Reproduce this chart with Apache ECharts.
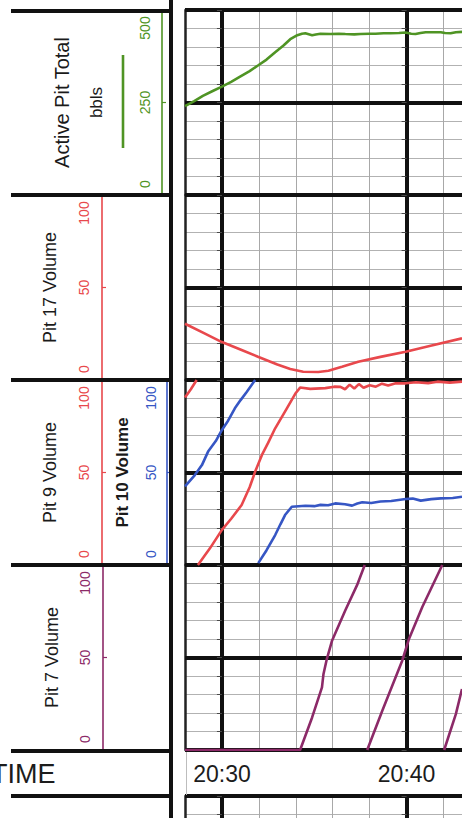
<!DOCTYPE html>
<html>
<head>
<meta charset="utf-8">
<title>Pit volumes</title>
<script src="https://cdn.jsdelivr.net/npm/echarts@6/dist/echarts.min.js"></script>
<style>
  html, body { margin: 0; padding: 0; background: #fff; }
  #chart { width: 462px; height: 818px; }
</style>
</head>
<body>
<div id="chart"></div>
<script>
// ---- time window of the strip (clock time) ----
const timeStart = '20:28:00';
const timeEnd = '20:43:00';
const timeLabels = ['20:30', '20:40'];
const timeHeader = 'TIME';

// ---- track titles and scales ----
const trackTitles = ['Active Pit Total', 'Pit 17 Volume', 'Pit 9 Volume', 'Pit 10 Volume', 'Pit 7 Volume'];
const activeUnits = 'bbls';
const activeScaleMax = 500;
const pitScaleMax = 100;

// ---- readings: [clock time, volume]; each inner list is one unbroken trace ----
const activePitTotal = [[
  ['20:28:00', 240], ['20:28:30', 254], ['20:28:58', 268], ['20:29:30', 281], ['20:30:00', 293],
  ['20:30:30', 306], ['20:30:59', 320], ['20:31:30', 335], ['20:31:57', 350], ['20:32:25', 366],
  ['20:32:53', 386], ['20:33:20', 404], ['20:33:42', 421], ['20:34:05', 432], ['20:34:20', 436],
  ['20:34:31', 437], ['20:34:53', 432], ['20:35:05', 434], ['20:35:20', 436], ['20:35:52', 435],
  ['20:36:20', 436], ['20:36:41', 435], ['20:37:10', 434], ['20:37:30', 435], ['20:38:00', 436],
  ['20:38:19', 436], ['20:38:45', 437], ['20:39:08', 437], ['20:39:35', 438], ['20:39:57', 439],
  ['20:40:15', 436], ['20:40:29', 435], ['20:40:45', 438], ['20:41:02', 440], ['20:41:30', 440],
  ['20:41:51', 440], ['20:42:05', 438], ['20:42:23', 437], ['20:42:40', 440], ['20:43:00', 441]
]];

const pit17Volume = [[
  ['20:28:00', 30.4], ['20:29:00', 25.5], ['20:30:00', 20.5], ['20:31:00', 16.5], ['20:31:57', 12.6],
  ['20:33:00', 8.4], ['20:33:42', 6.0], ['20:34:24', 4.5], ['20:35:13', 4.3], ['20:35:46', 5.0],
  ['20:36:30', 7.2], ['20:37:23', 9.9], ['20:38:35', 12.5], ['20:39:57', 15.3], ['20:41:18', 18.5],
  ['20:43:00', 22.5]
]];

const pit9Volume = [
  [['20:28:00', 90.5], ['20:28:19', 95], ['20:28:38', 100]],
  [
    ['20:28:42', 0], ['20:29:21', 9], ['20:30:00', 19], ['20:30:30', 25], ['20:31:04', 32.4],
    ['20:31:30', 42], ['20:31:48', 50.5], ['20:32:10', 59.5], ['20:32:30', 66], ['20:32:53', 73.9],
    ['20:33:31', 84.7], ['20:34:00', 93], ['20:34:14', 95.9], ['20:34:47', 95.2], ['20:35:36', 95.6],
    ['20:36:05', 96.4], ['20:36:25', 96.3], ['20:36:40', 95.0], ['20:36:55', 97.5], ['20:37:10', 95.4],
    ['20:37:25', 97.8], ['20:37:40', 95.8], ['20:38:00', 97.2], ['20:38:20', 96.4], ['20:38:40', 98.0],
    ['20:39:00', 97.0], ['20:39:25', 98.2], ['20:39:57', 98.2], ['20:40:30', 98.8], ['20:41:10', 98.3],
    ['20:41:40', 99.1], ['20:42:20', 98.6], ['20:43:00', 99.1]
  ]
];

const pit10Volume = [
  [
    ['20:28:00', 42.5], ['20:28:32', 48.6], ['20:28:55', 54], ['20:29:15', 61.3], ['20:29:40', 67],
    ['20:30:00', 73], ['20:30:20', 78], ['20:30:42', 84.7], ['20:31:00', 89], ['20:31:21', 93.7],
    ['20:31:48', 100]
  ],
  [
    ['20:31:58', 1], ['20:32:25', 8], ['20:32:53', 16.2], ['20:33:10', 22], ['20:33:25', 27],
    ['20:33:47', 31.5], ['20:34:31', 32.0], ['20:35:00', 31.8], ['20:35:20', 32.5], ['20:35:45', 32.3],
    ['20:36:08', 33.3], ['20:36:40', 32.8], ['20:37:03', 32.1], ['20:37:20', 33.2], ['20:37:36', 33.9],
    ['20:38:05', 33.5], ['20:38:35', 34.3], ['20:39:10', 34.6], ['20:39:57', 35.7], ['20:40:20', 35.9],
    ['20:40:46', 34.8], ['20:41:20', 35.6], ['20:41:51', 36.0], ['20:42:30', 36.2], ['20:43:00', 36.9]
  ]
];

const pit7Volume = [
  [
    ['20:28:00', 0], ['20:31:00', 0], ['20:34:14', 0], ['20:34:53', 17.6], ['20:35:25', 33.9],
    ['20:35:30', 41.1], ['20:35:41', 49.3], ['20:35:58', 59.2], ['20:36:41', 75.5], ['20:37:19', 89.1],
    ['20:37:44', 100]
  ],
  [
    ['20:37:52', 0], ['20:38:41', 21.2], ['20:39:46', 48.4], ['20:40:08', 60.2], ['20:40:51', 77.3],
    ['20:41:56', 100]
  ],
  [
    ['20:42:02', 0], ['20:42:40', 19.4], ['20:43:00', 33]
  ]
];

// ---- colours ----
const GREEN = '#4f9424';
const RED = '#e8484c';
const BLUE = '#3656c4';
const PURPLE = '#8c2a68';
const FONT = 'Liberation Sans, Arial, Helvetica, sans-serif';

function toMin(hms) {
  const p = hms.split(':').map(Number);
  return p[0] * 60 + p[1] + (p[2] || 0) / 60;
}
function fmtClock(m) {
  const h = Math.floor(m / 60), mm = Math.round(m - h * 60);
  return String(h).padStart(2, '0') + ':' + String(mm).padStart(2, '0');
}
function traceData(segments) {
  const out = [];
  segments.forEach((seg, i) => {
    if (i > 0) out.push([toMin(seg[0][0]), '-']);
    seg.forEach(([t, v]) => out.push([toMin(t), v]));
  });
  return out;
}

const T0 = toMin(timeStart), T1 = toMin(timeEnd);

// track frames: top edge of each track (last one is the next, empty track)
const trackTops = [10, 195, 380, 565, 796];
const trackMax = [activeScaleMax, pitScaleMax, pitScaleMax, pitScaleMax, pitScaleMax];
const TRACK_H = 185;
const PLOT_LEFT = 185;
const PX_PER_MIN = (462 - PLOT_LEFT) / (T1 - T0);

const grid = [], xAxis = [], yAxis = [], series = [];
const gridAxes = [];

trackTops.forEach((top, g) => {
  grid.push({ left: PLOT_LEFT, right: 0, top: top, height: TRACK_H, containLabel: false, outerBoundsMode: 'none' });
  const xi = xAxis.length;
  // 2-minute chart divisions
  xAxis.push({
    type: 'value', gridIndex: g, min: T0, max: T1, interval: 2, position: 'bottom',
    axisLine: { show: false }, axisTick: { show: false }, axisLabel: { show: false },
    splitLine: { show: true, lineStyle: { color: '#a8a8a8', width: 1 } }, z: 0
  });
  // 10-minute heavy divisions, labelled on the last data track
  xAxis.push({
    type: 'value', gridIndex: g, min: T0, max: T1, position: 'bottom',
    minInterval: 10, maxInterval: 10,
    axisLine: { show: false }, axisTick: { show: false },
    axisLabel: {
      show: g === 3, margin: 12, fontSize: 23, color: '#1c1c1c', fontFamily: FONT,
      showMinLabel: false, showMaxLabel: false,
      formatter: v => (timeLabels.indexOf(fmtClock(v)) >= 0 && Math.abs(v - Math.round(v)) < 1e-6) ? fmtClock(v) : ''
    },
    splitLine: { show: true, showMinLine: false, showMaxLine: false, lineStyle: { color: '#111', width: 4 } },
    z: 1
  });
  const M = trackMax[g];
  const yi = yAxis.length;
  yAxis.push({
    type: 'value', gridIndex: g, min: 0, max: M, interval: M / 10, position: 'left',
    axisLine: { show: true, onZero: false, lineStyle: { color: '#222', width: 2.5 } },
    axisTick: { show: false }, axisLabel: { show: false },
    splitLine: { show: true, lineStyle: { color: '#b2b2b2', width: 1 } }, z: 0
  });
  yAxis.push({
    type: 'value', gridIndex: g, min: 0, max: M, interval: M / 2, position: 'left',
    axisLine: { show: false }, axisTick: { show: false }, axisLabel: { show: false },
    splitLine: { show: true, showMinLine: true, showMaxLine: true, lineStyle: { color: '#111', width: 4 } }, z: 1
  });
  // short division marks just left of each heavy time line
  timeLabels.forEach(lbl => {
    const at = (toMin(lbl) - T0) * PX_PER_MIN;
    yAxis.push({
      type: 'value', gridIndex: g, min: 0, max: M, interval: M / 10, position: 'left', offset: -at,
      axisLine: { show: false }, axisLabel: { show: false }, splitLine: { show: false },
      axisTick: { show: true, length: 5, lineStyle: { color: '#4a4a4a', width: 1 } }, z: 1
    });
  });
  gridAxes.push({ xi: xi, yi: yi });
});

// scale axis drawn in the left header column of a track
function scaleAxis(g, max, color, offset, margin, name, nameGap, nameStyle) {
  const base = { color: color, fontSize: 14, fontFamily: FONT };
  return {
    type: 'value', gridIndex: g, min: 0, max: max, interval: max / 2, position: 'left', offset: offset,
    axisLine: { show: true, onZero: false, lineStyle: { color: color, width: 1.6 } },
    axisTick: { show: true, inside: true, length: 4, lineStyle: { color: color, width: 1.2 } },
    splitLine: { show: false },
    axisLabel: {
      rotate: 90, margin: margin, color: color, fontSize: 14, fontFamily: FONT,
      formatter: v => v === 0 ? '{lo|' + v + '}' : (v === max ? '{hi|' + v + '}' : '{md|' + v + '}'),
      rich: {
        lo: Object.assign({ padding: [0, 0, 0, 22] }, base),
        hi: Object.assign({ padding: [0, 36, 0, 0] }, base),
        md: Object.assign({}, base)
      }
    },
    name: name, nameLocation: 'middle', nameRotate: 90, nameGap: nameGap, nameMoveOverlap: false,
    nameTextStyle: nameStyle,
    z: 3
  };
}

const titleStyle = { color: '#1a1a1a', fontSize: 18, fontFamily: FONT };

// Active Pit Total
const yActive = yAxis.length;
yAxis.push(scaleAxis(0, activeScaleMax, GREEN, 23, 10,
  '{t|' + trackTitles[0] + '}\n{u|' + activeUnits + '}', 49,
  { rich: {
    t: { color: '#1a1a1a', fontSize: 20, fontFamily: FONT, lineHeight: 34, align: 'center' },
    u: { color: '#1a1a1a', fontSize: 17, fontFamily: FONT, lineHeight: 34, align: 'center' }
  } }));
// Pit 17
const yPit17 = yAxis.length;
yAxis.push(scaleAxis(1, pitScaleMax, RED, 83, 11, trackTitles[1], 43, titleStyle));
// Pit 9 and Pit 10 share a track
const yPit9 = yAxis.length;
yAxis.push(scaleAxis(2, pitScaleMax, RED, 83, 11, trackTitles[2], 43, titleStyle));
const yPit10 = yAxis.length;
yAxis.push(scaleAxis(2, pitScaleMax, BLUE, 18, 9, trackTitles[3], 36,
  { color: '#1a1a1a', fontSize: 17, fontWeight: 'bold', fontFamily: FONT }));
// Pit 7
const yPit7 = yAxis.length;
yAxis.push(scaleAxis(3, pitScaleMax, PURPLE, 82, 11, trackTitles[4], 42, titleStyle));

function trace(name, g, yi, segs, color) {
  return {
    name: name, type: 'line', xAxisIndex: gridAxes[g].xi, yAxisIndex: yi,
    data: traceData(segs), symbol: 'none', showSymbol: false, connectNulls: false,
    lineStyle: { color: color, width: 2.6 }, itemStyle: { color: color },
    clip: true, z: 4, silent: true, animation: false
  };
}
series.push(trace(trackTitles[0], 0, yActive, activePitTotal, GREEN));
series.push(trace(trackTitles[1], 1, yPit17, pit17Volume, RED));
series.push(trace(trackTitles[2], 2, yPit9, pit9Volume, RED));
series.push(trace(trackTitles[3], 2, yPit10, pit10Volume, BLUE));
series.push(trace(trackTitles[4], 3, yPit7, pit7Volume, PURPLE));

// header column frame
const frameRows = [11, 195, 380, 565, 751, 796];
const graphic = frameRows.map(y => ({
  type: 'line', shape: { x1: 11, y1: y, x2: 172, y2: y },
  style: { stroke: '#111', lineWidth: 4 }, z: 10, silent: true
}));
graphic.push({
  type: 'line', shape: { x1: 171, y1: 0, x2: 171, y2: 818 },
  style: { stroke: '#111', lineWidth: 4 }, z: 10, silent: true
});
// legend stroke beside the Active Pit Total title
graphic.push({
  type: 'line', shape: { x1: 123, y1: 55, x2: 123, y2: 148 },
  style: { stroke: GREEN, lineWidth: 2.6 }, z: 10, silent: true
});
// time row box edge
graphic.push({
  type: 'line', shape: { x1: 186.5, y1: 752, x2: 186.5, y2: 795 },
  style: { stroke: '#bdbdbd', lineWidth: 1 }, z: 10, silent: true
});
graphic.push({
  type: 'text', x: -9, y: 774,
  style: { text: timeHeader, fontSize: 27, fontFamily: FONT, fill: '#1c1c1c', verticalAlign: 'middle' },
  z: 10, silent: true
});

const chart = echarts.init(document.getElementById('chart'), null, { renderer: 'svg', width: 462, height: 818 });
chart.setOption({
  animation: false,
  backgroundColor: '#ffffff',
  grid: grid,
  xAxis: xAxis,
  yAxis: yAxis,
  series: series,
  graphic: graphic
});
</script>
</body>
</html>
